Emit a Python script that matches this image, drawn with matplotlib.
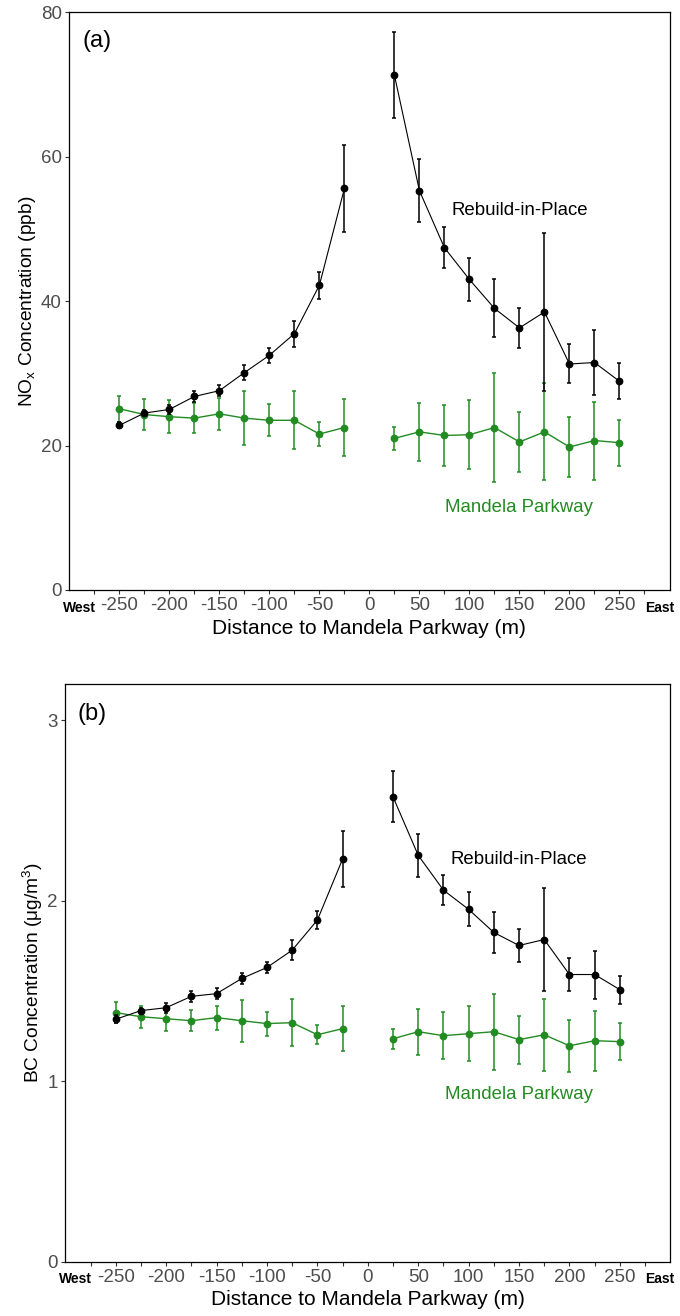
import matplotlib
matplotlib.use("Agg")
import matplotlib.pyplot as plt
import numpy as np

plt.rcParams['font.family'] = ['Liberation Sans', 'DejaVu Sans']
plt.rcParams['mathtext.fontset'] = 'custom'
plt.rcParams['mathtext.rm'] = 'Liberation Sans'

distance = [-250, -225, -200, -175, -150, -125, -100, -75, -50, -25,
            25, 50, 75, 100, 125, 150, 175, 200, 225, 250]

# Panel (a) NOx (ppb)
nox_rip = [22.8, 24.5, 25.0, 26.8, 27.6, 30.1, 32.5, 35.5, 42.2, 55.6,
           71.3, 55.3, 47.4, 43.0, 39.0, 36.3, 38.5, 31.3, 31.5, 28.9]
nox_rip_err = [0.4, 0.4, 0.6, 0.7, 0.8, 1.0, 1.0, 1.8, 1.9, 6.0,
               6.0, 4.4, 2.8, 3.0, 4.0, 2.8, 11.0, 2.7, 4.5, 2.5]
nox_mp = [25.1, 24.3, 24.0, 23.8, 24.4, 23.8, 23.5, 23.5, 21.6, 22.5,
          21.0, 21.9, 21.4, 21.5, 22.5, 20.5, 21.9, 19.8, 20.7, 20.4]
nox_mp_err = [1.8, 2.1, 2.3, 2.1, 2.2, 3.7, 2.2, 4.0, 1.6, 3.9,
              1.6, 4.0, 4.2, 4.8, 7.5, 4.2, 6.7, 4.2, 5.4, 3.2]

# Panel (b) BC (ug/m3)
bc_rip = [1.343, 1.391, 1.407, 1.470, 1.485, 1.569, 1.630, 1.726, 1.893, 2.231,
          2.576, 2.252, 2.059, 1.952, 1.824, 1.752, 1.785, 1.591, 1.591, 1.507]
bc_rip_err = [0.022, 0.017, 0.027, 0.030, 0.029, 0.033, 0.033, 0.056, 0.051, 0.153,
              0.142, 0.120, 0.085, 0.094, 0.114, 0.091, 0.286, 0.092, 0.133, 0.078]
bc_mp = [1.380, 1.357, 1.346, 1.335, 1.352, 1.335, 1.319, 1.324, 1.257, 1.291,
         1.235, 1.274, 1.252, 1.263, 1.274, 1.230, 1.257, 1.196, 1.224, 1.219]
bc_mp_err = [0.056, 0.061, 0.068, 0.058, 0.067, 0.117, 0.067, 0.130, 0.053, 0.125,
             0.056, 0.128, 0.131, 0.153, 0.210, 0.133, 0.200, 0.145, 0.167, 0.103]

major_ticks = [-250, -200, -150, -100, -50, 0, 50, 100, 150, 200, 250]
minor_ticks = [-275, -225, -175, -125, -75, -25, 25, 75, 125, 175, 225, 275]

GREEN = '#228B22'
GRAY = '#4D4D4D'

W, H = 680, 1316
fig = plt.figure(figsize=(W / 100, H / 100), dpi=100)


def px_axes(left, right, top, bottom):
    return fig.add_axes([left / W, 1 - bottom / H, (right - left) / W, (bottom - top) / H])


ax_a = px_axes(69.3, 669.5, 12.3, 590.0)
ax_b = px_axes(65.3, 670.3, 684.3, 1261.5)

dist = np.array(distance)
west = dist < 0
east = dist > 0


def draw(ax, rip, rip_err, mp, mp_err):
    rip = np.array(rip); rip_err = np.array(rip_err)
    mp = np.array(mp); mp_err = np.array(mp_err)
    for mask in (west, east):
        ax.errorbar(dist[mask], mp[mask], yerr=mp_err[mask], color=GREEN, lw=1.0,
                    elinewidth=1.1, capsize=1.6, capthick=1.1, marker='o', ms=4.6,
                    zorder=3)
        ax.errorbar(dist[mask], rip[mask], yerr=rip_err[mask], color='black', lw=0.8,
                    elinewidth=1.1, capsize=1.6, capthick=1.1, marker='o', ms=4.6,
                    zorder=4)
    ax.set_xlim(-300, 300)
    ax.set_xticks(major_ticks)
    ax.set_xticks(minor_ticks, minor=True)
    ax.set_xticklabels([str(t) for t in major_ticks])
    ax.tick_params(axis='both', which='both', length=3.2, width=0.8, color='#333333',
                   labelsize=13.5, labelcolor=GRAY, pad=2.2)
    ax.tick_params(axis='x', which='minor', labelbottom=False)
    for s in ax.spines.values():
        s.set_linewidth(0.9)
    ax.set_xlabel('Distance to Mandela Parkway (m)', fontsize=15, labelpad=3)
    for xv, lab in ((-290, 'West'), (290, 'East')):
        ax.annotate(lab, xy=(xv, 0), xycoords=('data', 'axes fraction'),
                    xytext=(0, -12.6), textcoords='offset points',
                    ha='center', va='center', fontsize=10, fontweight='bold')


draw(ax_a, nox_rip, nox_rip_err, nox_mp, nox_mp_err)
ax_a.set_ylim(0, 80)
ax_a.set_yticks([0, 20, 40, 60, 80])
ax_a.set_ylabel(r'NO$_\mathregular{x}$ Concentration (ppb)', fontsize=13.8, labelpad=2)
ax_a.text(-287, 75.2, '(a)', fontsize=17, ha='left', va='baseline')
ax_a.text(150, 51.9, 'Rebuild-in-Place', fontsize=13.4, ha='center', va='baseline')
ax_a.text(150, 10.8, 'Mandela Parkway', fontsize=13.4, ha='center', va='baseline', color=GREEN)

draw(ax_b, bc_rip, bc_rip_err, bc_mp, bc_mp_err)
ax_b.set_ylim(0, 3.2)
ax_b.set_yticks([0, 1, 2, 3])
ax_b.set_ylabel(r'BC Concentration ($\mathregular{\mu}$g/m$^\mathregular{3}$)', fontsize=13.8, labelpad=2)
ax_b.text(-288, 3.0, '(b)', fontsize=17, ha='left', va='baseline')
ax_b.text(150, 2.206, 'Rebuild-in-Place', fontsize=13.4, ha='center', va='baseline')
ax_b.text(150, 0.90, 'Mandela Parkway', fontsize=13.4, ha='center', va='baseline', color=GREEN)

fig.savefig('out.png', dpi=100)
